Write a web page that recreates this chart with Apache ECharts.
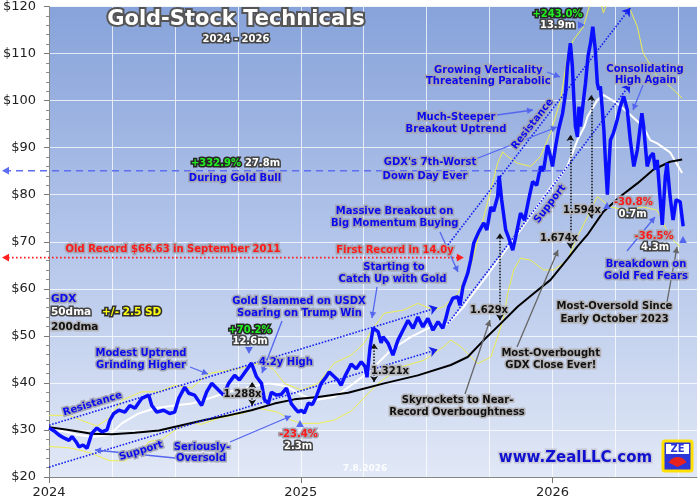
<!DOCTYPE html>
<html><head><meta charset="utf-8">
<script src="https://cdn.jsdelivr.net/npm/echarts@6/dist/echarts.min.js"></script>
<style>html,body{margin:0;padding:0;background:#fff}#c{width:700px;height:500px}</style>
</head><body><div id="c"></div>
<script>
// ---------- data (decimal year, USD) ----------
const yMin = 20, yMax = 120, yStep = 10;
const xMin = 2024, xMax = 2026.574;
const yearTicks = [2024, 2025, 2026];

const gdx = [[2024.000,30.4],[2024.020,29.8],[2024.040,28.9],[2024.059,28.3],[2024.079,27.8],[2024.091,28.6],[2024.107,27.5],[2024.119,26.4],[2024.135,26.8],[2024.151,26.1],[2024.170,29.3],[2024.190,30.4],[2024.210,29.6],[2024.230,30.0],[2024.242,32.1],[2024.257,33.5],[2024.277,34.2],[2024.301,33.8],[2024.321,35.2],[2024.341,34.6],[2024.356,35.8],[2024.368,36.7],[2024.396,37.4],[2024.408,35.2],[2024.428,33.8],[2024.455,34.2],[2024.479,33.5],[2024.499,33.8],[2024.515,36.7],[2024.539,39.1],[2024.555,37.8],[2024.578,37.4],[2024.606,35.2],[2024.626,38.1],[2024.646,39.9],[2024.665,38.9],[2024.693,37.4],[2024.713,39.9],[2024.737,41.6],[2024.756,40.6],[2024.776,42.1],[2024.804,44.2],[2024.824,41.3],[2024.844,39.9],[2024.855,36.5],[2024.871,35.6],[2024.883,38.0],[2024.903,37.4],[2024.923,37.6],[2024.943,38.9],[2024.962,35.6],[2024.978,34.5],[2024.990,33.8],[2025.002,34.2],[2025.014,33.6],[2025.030,35.7],[2025.046,35.4],[2025.061,37.0],[2025.081,39.9],[2025.097,41.0],[2025.113,42.3],[2025.133,41.3],[2025.149,40.5],[2025.160,39.5],[2025.176,41.5],[2025.188,42.7],[2025.200,44.0],[2025.220,43.0],[2025.240,44.5],[2025.255,43.5],[2025.263,41.2],[2025.275,47.5],[2025.287,51.6],[2025.307,50.9],[2025.319,48.5],[2025.327,49.8],[2025.347,48.4],[2025.366,45.9],[2025.386,49.1],[2025.406,51.2],[2025.426,53.3],[2025.446,51.6],[2025.465,54.0],[2025.485,51.9],[2025.505,53.7],[2025.525,51.2],[2025.545,53.0],[2025.564,51.6],[2025.576,53.7],[2025.588,56.2],[2025.604,58.0],[2025.624,58.3],[2025.632,56.5],[2025.644,60.4],[2025.663,63.3],[2025.675,66.1],[2025.687,69.7],[2025.707,72.1],[2025.727,74.0],[2025.739,72.5],[2025.755,77.4],[2025.766,76.5],[2025.782,79.6],[2025.788,84.0],[2025.798,78.9],[2025.814,72.5],[2025.826,70.8],[2025.842,68.2],[2025.854,71.1],[2025.873,76.1],[2025.889,74.6],[2025.905,78.9],[2025.921,82.8],[2025.937,82.0],[2025.953,86.0],[2025.964,85.0],[2025.980,90.5],[2025.992,88.1],[2026.000,86.0],[2026.012,90.2],[2026.024,93.8],[2026.040,97.3],[2026.052,101.6],[2026.059,107.2],[2026.071,112.2],[2026.079,107.2],[2026.085,100.1],[2026.091,94.5],[2026.099,92.3],[2026.105,98.7],[2026.111,94.5],[2026.123,100.1],[2026.131,103.7],[2026.141,109.4],[2026.151,112.2],[2026.160,115.7],[2026.170,110.8],[2026.178,103.7],[2026.184,102.3],[2026.190,103.0],[2026.198,98.0],[2026.204,93.8],[2026.210,87.4],[2026.218,80.0],[2026.224,86.0],[2026.230,91.6],[2026.242,93.1],[2026.257,95.9],[2026.269,98.7],[2026.283,100.9],[2026.297,98.0],[2026.309,91.6],[2026.323,86.0],[2026.337,89.5],[2026.355,97.3],[2026.362,94.5],[2026.376,86.0],[2026.388,88.1],[2026.400,88.8],[2026.408,85.3],[2026.416,87.4],[2026.428,78.9],[2026.436,73.6],[2026.448,83.8],[2026.455,86.7],[2026.467,79.6],[2026.479,74.6],[2026.491,78.9],[2026.507,78.5],[2026.519,73.3]];

const dma50 = [[2024.000,30.0],[2024.051,29.8],[2024.111,29.0],[2024.170,28.5],[2024.238,28.9],[2024.289,31.4],[2024.356,33.5],[2024.420,34.6],[2024.499,35.2],[2024.566,35.6],[2024.634,36.7],[2024.713,38.1],[2024.792,39.1],[2024.871,39.9],[2024.923,39.5],[2024.950,39.1],[2024.990,37.8],[2025.053,36.3],[2025.133,37.0],[2025.160,38.0],[2025.200,39.5],[2025.279,42.7],[2025.358,47.0],[2025.438,49.8],[2025.517,51.9],[2025.584,52.6],[2025.648,56.2],[2025.675,58.3],[2025.727,61.9],[2025.794,66.8],[2025.834,69.7],[2025.873,72.5],[2025.913,75.5],[2025.952,78.5],[2025.992,81.5],[2026.032,84.0],[2026.059,86.0],[2026.099,91.6],[2026.127,94.5],[2026.139,96.6],[2026.178,100.1],[2026.202,101.2],[2026.257,99.4],[2026.309,97.0],[2026.360,94.5],[2026.388,91.6],[2026.416,90.9],[2026.467,89.0],[2026.515,84.6]];

const dma200 = [[2024.000,30.6],[2024.079,30.0],[2024.170,29.2],[2024.250,29.1],[2024.341,29.4],[2024.436,29.9],[2024.527,31.0],[2024.618,32.1],[2024.713,33.1],[2024.804,34.2],[2024.895,35.6],[2024.974,36.5],[2025.069,37.0],[2025.188,37.9],[2025.331,39.9],[2025.465,41.6],[2025.596,43.8],[2025.663,45.5],[2025.727,49.1],[2025.794,52.6],[2025.861,56.2],[2025.925,59.0],[2025.992,61.9],[2026.059,66.3],[2026.099,69.0],[2026.139,71.5],[2026.202,76.4],[2026.269,79.6],[2026.337,82.4],[2026.400,85.3],[2026.467,87.0],[2026.515,87.5]];

const bandUpper = [[2024.000,33.1],[2024.079,33.1],[2024.131,32.0],[2024.190,30.8],[2024.238,32.5],[2024.289,36.3],[2024.368,38.1],[2024.436,38.1],[2024.499,39.5],[2024.566,38.9],[2024.634,42.0],[2024.713,42.7],[2024.792,43.4],[2024.844,44.5],[2024.895,42.7],[2024.935,39.9],[2025.002,38.5],[2025.069,39.9],[2025.133,44.2],[2025.200,45.9],[2025.251,48.4],[2025.279,50.9],[2025.331,54.8],[2025.410,55.5],[2025.465,56.9],[2025.529,55.5],[2025.568,56.2],[2025.624,59.0],[2025.675,64.7],[2025.703,70.4],[2025.727,75.3],[2025.755,81.0],[2025.782,86.7],[2025.802,89.1],[2025.822,88.1],[2025.861,86.7],[2025.913,86.0],[2025.952,88.1],[2025.992,93.1],[2026.032,100.1],[2026.059,109.4],[2026.083,112.9],[2026.123,115.7],[2026.151,121.0],[2026.178,124.0],[2026.202,118.6],[2026.218,121.0],[2026.257,125.0],[2026.309,119.3],[2026.337,115.7],[2026.360,110.1],[2026.416,105.1],[2026.467,103.0],[2026.515,100.5]];

const bandLower = [[2024.000,26.5],[2024.079,26.2],[2024.131,25.6],[2024.170,25.0],[2024.238,23.5],[2024.301,23.4],[2024.368,25.7],[2024.396,27.5],[2024.448,28.0],[2024.507,30.2],[2024.566,31.5],[2024.606,31.2],[2024.673,32.5],[2024.764,33.5],[2024.832,34.6],[2024.907,33.8],[2024.962,32.1],[2025.002,31.4],[2025.069,31.4],[2025.133,32.1],[2025.200,34.0],[2025.307,39.9],[2025.398,43.4],[2025.489,44.8],[2025.568,47.7],[2025.596,49.1],[2025.636,47.7],[2025.703,44.1],[2025.755,45.5],[2025.782,49.8],[2025.806,54.0],[2025.822,59.0],[2025.846,64.0],[2025.873,66.5],[2025.913,66.1],[2025.964,64.0],[2026.004,64.0],[2026.059,66.1],[2026.099,71.1],[2026.139,75.3],[2026.178,79.6],[2026.230,77.4],[2026.297,76.7],[2026.360,77.4],[2026.416,76.7],[2026.467,71.1],[2026.507,68.9]];

// trend channels (endpoints)
const res2024 = [[2024.000,31.0],[2025.543,56.0]];
const sup2024 = [[2024.000,22.1],[2025.543,47.1]];
const res2025 = [[2025.584,69.3],[2026.309,119.7]];
const sup2025 = [[2025.584,52.6],[2026.309,103.5]];

// ratio measurement arrows: [year, low, high]
const ratioArrows = [[2024.807,35.2,40.2],[2025.291,40.2,48.4],[2025.791,53.3,71.8],[2026.071,68.6,92.7],[2026.154,75.0,101.2]];
const ratioLabels = ['1.288x','1.321x','1.629x','1.674x','1.594x'];

// reference levels: [value, end year]
const bullLevel = [85.1, 2026.059];
const oldRecord = [66.63, 2025.636];

// ---------- chart ----------
const FONT = '"DejaVu Sans", Verdana, sans-serif';
const chart = echarts.init(document.getElementById('c'));

function ln(name, data, color, width, z, extra) {
  return Object.assign({type:'line', name, data, showSymbol:false, symbol:'none', silent:true,
    lineStyle:{color, width}, z, animation:false, clip:true}, extra || {});
}
function seg(a, b) { return [{coord:a}, {coord:b}]; }

const gridLine = {show:true, lineStyle:{color:'rgba(255,255,255,0.75)', width:1}};
const chanStyle = {type:'dotted', color:'#1520ee', width:1.6};
const option = {
  animation:false,
  grid:{left:47, right:3, top:6, bottom:23, show:true, borderWidth:0,
    backgroundColor:new echarts.graphic.LinearGradient(0,0,0,1,[{offset:0,color:'#87a3da'},{offset:0.5,color:'#b3c5ea'},{offset:1,color:'#e1e8f6'}])},
  xAxis:[
    {type:'value', min:xMin, max:xMax, interval:0.25, position:'bottom',
      axisLine:{show:false}, axisTick:{show:false}, axisLabel:{show:false}, splitLine:gridLine},
    {type:'value', min:xMin, max:xMax, interval:1, position:'bottom',
      axisLine:{show:true, onZero:false, lineStyle:{color:'#888', width:1}},
      axisTick:{show:true, customValues:yearTicks, length:6, lineStyle:{color:'#777'}},
      axisLabel:{customValues:yearTicks, formatter:v=>String(Math.round(v)), color:'#222', fontSize:13, fontFamily:FONT, margin:9},
      splitLine:{show:false}}
  ],
  yAxis:{type:'value', min:yMin, max:yMax, interval:yStep,
    axisLine:{show:true, lineStyle:{color:'#888', width:1}},
    axisTick:{show:true, length:5, lineStyle:{color:'#777'}},
    minorTick:{show:true, splitNumber:5, length:3, lineStyle:{color:'#888'}},
    axisLabel:{formatter:v=>'$'+v, color:'#222', fontSize:13, fontFamily:FONT, margin:13},
    splitLine:gridLine},
  series:[
    ln('Upper', bandUpper, '#eeee50', 1, 2, {markLine:{silent:true, animation:false, symbol:['none','arrow'], symbolSize:8,
      label:{show:false}, lineStyle:chanStyle, emphasis:{disabled:true},
      data:[seg(res2024[0],res2024[1]), seg(sup2024[0],sup2024[1]), seg(res2025[0],res2025[1]), seg(sup2025[0],sup2025[1])]}}),
    ln('Lower', bandLower, '#eeee50', 1, 2),
    ln('50dma', dma50, '#ffffff', 2, 3),
    ln('200dma', dma200, '#000000', 2, 4, {markLine:{silent:true, animation:false, symbol:['arrow','arrow'], symbolSize:6,
      label:{show:false}, lineStyle:{type:'dotted', color:'#111', width:1.5}, emphasis:{disabled:true},
      data:ratioArrows.map(r=>seg([r[0],r[1]],[r[0],r[2]]))}}),
    ln('GDX', gdx, '#0a10ff', 3.5, 5)
  ]
};
chart.setOption(option);

// ---------- annotations ----------
const STY = {
  blue:{fill:'#0a0af0', stroke:'#a4a6b4'},
  red:{fill:'#ff1818', stroke:'#a4a6b4'},
  dark:{fill:'#111111', stroke:'#b4b4b8'},
  green:{fill:'#22ee22', stroke:'#262626'},
  white:{fill:'#ffffff', stroke:'#454545'},
  yellow:{fill:'#ffff10', stroke:'#303030'}
};
const G = [];
function T(x, y, text, kind, size, align, rot) {
  const s = STY[kind];
  G.push({type:'text', x, y, rotation:rot||0, z:100, silent:true,
    style:{text, x:0, y:0, fill:s.fill, stroke:s.stroke, lineWidth:3.2, font:'bold '+(size||10)+'px '+FONT,
      align:align||'center', textAlign:align||'center', verticalAlign:'middle', textVerticalAlign:'middle'}});
}
function head(x, y, ang, color, size) {
  const h = size || 5, w = h*0.55;
  const bx = x - h*Math.cos(ang), by = y - h*Math.sin(ang);
  G.push({type:'polygon', z:99, silent:true, shape:{points:[[x,y],[bx + w*Math.sin(ang), by - w*Math.cos(ang)],[bx - w*Math.sin(ang), by + w*Math.cos(ang)]]}, style:{fill:color}});
}
function A(x1, y1, x2, y2, color) {
  color = color || '#5466ee';
  G.push({type:'line', z:99, silent:true, shape:{x1,y1,x2,y2}, style:{stroke:color, lineWidth:1.3}});
  head(x2, y2, Math.atan2(y2-y1, x2-x1), color, 6);
}
const px = (t, v) => chart.convertToPixel({xAxisIndex:0, yAxisIndex:0}, [t, v]);

// reference levels reaching out past the axis
(function(){
  const pB = px(bullLevel[1], bullLevel[0]);
  G.push({type:'line', z:50, silent:true, shape:{x1:4, y1:pB[1], x2:pB[0], y2:pB[1]}, style:{stroke:'#5d6ff0', lineWidth:1.5, lineDash:[7,5]}});
  head(2, pB[1], Math.PI, '#5d6ff0', 7);
  const pR = px(oldRecord[1], oldRecord[0]);
  G.push({type:'line', z:50, silent:true, shape:{x1:4, y1:pR[1], x2:pR[0]-2, y2:pR[1]}, style:{stroke:'#ff2020', lineWidth:1.6, lineDash:[1.6,2.4]}});
  head(2, pR[1], Math.PI, '#ff2020', 7);
  head(pR[0]+3, pR[1], 0, '#ff2020', 7);
})();

// title
G.push({type:'text', x:236, y:20, z:100, silent:true, style:{text:'Gold-Stock Technicals', x:0, y:0, fill:'#fff', stroke:'#555', lineWidth:4,
  font:'bold 21px '+FONT, align:'center', textAlign:'center', verticalAlign:'middle', textVerticalAlign:'middle'}});
T(236, 39, '2024 - 2026', 'white', 10);

// legend
T(51, 299, 'GDX', 'blue', 10.5, 'left');
T(51, 312, '50dma', 'white', 10.5, 'left');
T(102, 312, '+/- 2.5 SD', 'yellow', 10.5, 'left');
T(51, 327, '200dma', 'dark', 10.5, 'left');

// texts
T(216, 163, '+332.9%', 'green'); T(262.5, 163, '27.8m', 'white');
T(235, 178, 'During Gold Bull', 'blue');
T(173, 249, 'Old Record $66.63 in September 2011', 'red');
T(395, 250, 'First Record in 14.0y', 'red');
T(141, 353, 'Modest Uptrend', 'blue'); T(141, 365, 'Grinding Higher', 'blue');
T(92.5, 404, 'Resistance', 'blue', 10, 'center', 0.297);
T(141, 451, 'Support', 'blue', 10, 'center', 0.297);
T(202, 447, 'Seriously-', 'blue'); T(201, 458.5, 'Oversold', 'blue');
T(250, 330, '+70.2%', 'green'); T(250, 341.7, '12.6m', 'white');
T(286, 362, '4.2y High', 'blue');
T(299, 301.7, 'Gold Slammed on USDX', 'blue'); T(299.5, 313.3, 'Soaring on Trump Win', 'blue');
T(298.3, 434, '-23.4%', 'red'); T(298, 446, '2.3m', 'white');
G.push({type:'text', x:365, y:468.5, z:100, silent:true, style:{text:'7.8.2026', x:0, y:0, fill:'rgba(255,255,255,0.9)', font:'bold 9px '+FONT, align:'center', textAlign:'center', verticalAlign:'middle', textVerticalAlign:'middle'}});
T(394, 267.7, 'Starting to', 'blue'); T(392.5, 279.3, 'Catch Up with Gold', 'blue');
T(394.5, 211.7, 'Massive Breakout on', 'blue'); T(394.7, 223.3, 'Big Momentum Buying', 'blue');
T(457.5, 400, 'Skyrockets to Near-', 'dark'); T(457, 412.3, 'Record Overboughtness', 'dark');
T(430, 162.7, "GDX's 7th-Worst", 'blue'); T(425, 176, 'Down Day Ever', 'blue');
T(456, 117.3, 'Much-Steeper', 'blue'); T(456, 129, 'Breakout Uptrend', 'blue');
T(532.5, 124, 'Resistance', 'blue', 10, 'center', 0.905);
T(550, 204, 'Support', 'blue', 10, 'center', 0.915);
T(488.3, 70, 'Growing Verticality', 'blue'); T(488.3, 81.7, 'Threatening Parabolic', 'blue');
T(557.5, 14, '+243.0%', 'green'); T(557.5, 25, '13.9m', 'white');
T(550.7, 353.3, 'Most-Overbought', 'dark'); T(550.8, 365, 'GDX Close Ever!', 'dark');
T(645, 69, 'Consolidating', 'blue'); T(645.8, 80.7, 'High Again', 'blue');
T(633.3, 202.7, '-30.8%', 'red'); T(632.5, 214, '0.7m', 'white');
T(654, 236, '-36.5%', 'red'); T(655, 247.3, '4.3m', 'white');
T(646, 264.3, 'Breakdown on', 'blue'); T(646, 276, 'Gold Fed Fears', 'blue');
T(614.5, 306.7, 'Most-Oversold Since', 'dark'); T(614.5, 319, 'Early October 2023', 'dark');
// ratio labels
const ratioPos = [[242.5,394.5],[390,371.7],[489,310],[559,238],[582,210]];
ratioLabels.forEach((s,i)=>T(ratioPos[i][0], ratioPos[i][1], s, 'dark', 10));

// arrows
A(190,367,208,374); A(175,458,95,450); A(230,442,291,416); A(282,321,262,373);
A(377,287,372,318); A(440,232,458,272); A(473,160,557,127); A(497,115,533,110);
A(547,72,560,77); A(643,85,633,110); A(627,251,655,217);
A(667,302,677,247,'#666'); A(517,347,558,250,'#666'); A(465,394,490,320,'#666');
head(585, 25, 0, '#5466ee', 7);
head(249, 354, Math.PI/2, '#5466ee', 7); head(300, 420, -Math.PI/2, '#5466ee', 7);
head(607, 202, -Math.PI/2, '#5466ee', 7); head(683, 236, -Math.PI/2, '#5466ee', 7);

// footer
G.push({type:'text', x:575.5, y:458.3, z:100, silent:true, style:{text:'www.ZealLLC.com', x:0, y:0, fill:'#1010d0', stroke:'#c8c8d8', lineWidth:3,
  font:'bold 15px '+FONT, align:'center', textAlign:'center', verticalAlign:'middle', textVerticalAlign:'middle'}});
G.push({type:'rect', z:100, silent:true, shape:{x:663, y:441, width:29, height:30, r:2}, style:{fill:'#2c36d8', stroke:'#ffe000', lineWidth:3}});
G.push({type:'rect', z:101, silent:true, shape:{x:666, y:444, width:23, height:10}, style:{fill:'#ffffff'}});
G.push({type:'text', x:677.5, y:449, z:102, silent:true, style:{text:'ZE', x:0, y:0, fill:'#2c36d8', font:'bold 10px '+FONT, align:'center', textAlign:'center', verticalAlign:'middle', textVerticalAlign:'middle'}});
G.push({type:'sector', z:102, silent:true, shape:{cx:677.5, cy:467, r0:0, r:10, startAngle:Math.PI*1.15, endAngle:Math.PI*1.85}, style:{fill:'#e8231e'}});

chart.setOption({graphic:{elements:G}});
</script>
</body></html>
